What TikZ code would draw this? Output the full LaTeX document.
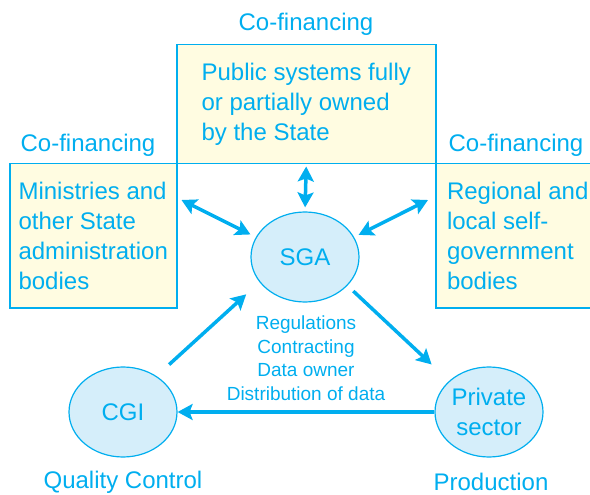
\documentclass[tikz,border=0pt]{standalone}
\usepackage{fontspec}
\setmainfont{Liberation Sans}
\usetikzlibrary{shapes.geometric,arrows.meta}
\definecolor{sgacyan}{RGB}{0,174,239}
\definecolor{boxyellow}{RGB}{255,252,225}
\definecolor{ovalblue}{RGB}{213,238,250}
\newcommand{\bigtxt}{\fontsize{24}{30}\selectfont}
\newcommand{\smalltxt}{\fontsize{19}{23.5}\selectfont}

\begin{document}
\begin{tikzpicture}[x=1pt, y=-1pt,
    box/.style={draw=sgacyan, line width=1.5pt, fill=boxyellow, rectangle, anchor=north west, inner xsep=4pt, align=left, font=\bigtxt, text=sgacyan},
    oval/.style={draw=sgacyan, line width=1.2pt, fill=ovalblue, ellipse, minimum width=108pt, minimum height=90pt, inner sep=0pt, align=center, font=\bigtxt, text=sgacyan},
    lbl/.style={text=sgacyan, font=\bigtxt, inner sep=0pt, align=center},
    link/.style={draw=sgacyan, line width=3.5pt, -{Stealth[length=15pt, width=16pt, inset=3pt]}},
    both/.style={draw=sgacyan, line width=3.5pt, {Stealth[length=15pt, width=16pt, inset=3pt]}-{Stealth[length=15pt, width=16pt, inset=3pt]}}]
    \useasboundingbox (0,0) rectangle (590,495);

    % Boxes
    \node[box, minimum width=259pt, minimum height=119pt] (box-top) at (176,44) {Public systems fully\\or partially owned\\by the State};
    \node[box, minimum width=167pt, minimum height=144pt] (box-left) at (9,163) {Ministries and\\other State\\administration\\bodies};
    \node[box, minimum width=164pt, minimum height=144pt] (box-right) at (435,163) {Regional and\\local self-\\government\\bodies};

    % Labels
    \node[lbl] (cofin-top) at (306,24) {Co-financing};
    \node[lbl] (cofin-left) at (88,145) {Co-financing};
    \node[lbl] (cofin-right) at (516,145) {Co-financing};

    % Ovals
    \node[oval] (sga) at (305,257) {SGA};
    \node[oval] (cgi) at (123,412) {CGI};
    \node[oval] (private) at (489,412) {Private\\sector};

    \node[lbl] (quality) at (123,482) {Quality Control};
    \node[lbl] (production) at (491,482) {Production};
    \node[lbl, font=\smalltxt] (tasks) at (306,358) {Regulations\\Contracting\\Data owner\\Distribution of data};

    % Arrows
    \draw[both, shorten <=2pt, shorten >=4pt] (box-top.south) -- (sga.north);
    \draw[both, shorten >=6pt] ([xshift=4pt, yshift=-37pt]box-left.north east) -- (sga.158);
    \draw[both, shorten >=5pt] ([xshift=-7pt, yshift=-37pt]box-right.north west) -- (sga.22);
    \draw[link, shorten <=17pt, shorten >=18pt] (cgi.47) -- (sga.209);
    \draw[link, shorten <=8pt, shorten >=24pt] (sga.-34) -- (private.142);
    \draw[link, line width=4pt] (private.west) -- (cgi.east);
\end{tikzpicture}
\end{document}
